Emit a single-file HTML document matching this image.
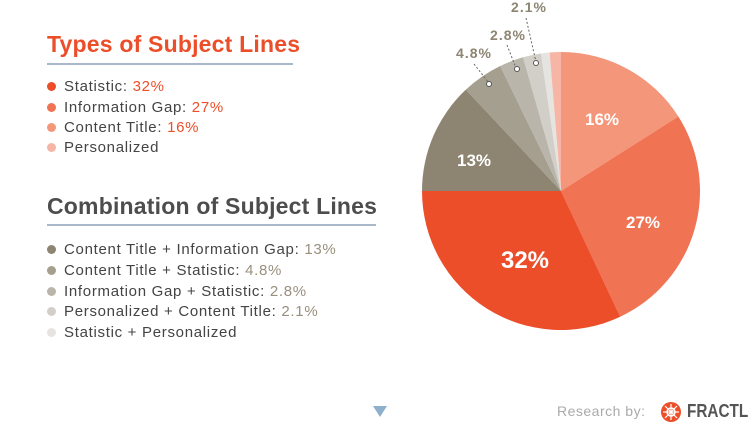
<!DOCTYPE html>
<html><head><style>
body{margin:0;width:756px;height:433px;background:#fff;position:relative;overflow:hidden;font-family:"Liberation Sans",sans-serif}
.t{position:absolute;font-weight:bold;font-size:23px;letter-spacing:0.2px}
.ul{position:absolute;height:2px;background:#a9b8c8}
.it{position:absolute;left:47px;font-size:15px;color:#444;white-space:nowrap;letter-spacing:0.7px}
.it i{display:inline-block;width:9px;height:9px;border-radius:50%;margin-right:8px;vertical-align:0px}
</style></head><body>
<div class="t" style="left:47px;top:31px;color:#ec4e2a">Types of Subject Lines</div>
<div class="ul" style="left:47px;top:63px;width:246px"></div>
<div class="it" style="top:78px"><i style="background:#ec4e2a"></i>Statistic: <span style="color:#ec4e2a">32%</span></div>
<div class="it" style="top:99px"><i style="background:#f07353"></i>Information Gap: <span style="color:#ec4e2a">27%</span></div>
<div class="it" style="top:119px"><i style="background:#f4967a"></i>Content Title: <span style="color:#ec4e2a">16%</span></div>
<div class="it" style="top:139px"><i style="background:#f6b5a5"></i>Personalized</div>
<div class="t" style="left:47px;top:193px;color:#4d4d4d">Combination of Subject Lines</div>
<div class="ul" style="left:47px;top:224px;width:329px"></div>
<div class="it" style="top:241px"><i style="background:#8d8472"></i>Content Title + Information Gap: <span style="color:#998f7e">13%</span></div>
<div class="it" style="top:262px"><i style="background:#a59f90"></i>Content Title + Statistic: <span style="color:#998f7e">4.8%</span></div>
<div class="it" style="top:283px"><i style="background:#bab5aa"></i>Information Gap + Statistic: <span style="color:#998f7e">2.8%</span></div>
<div class="it" style="top:303px"><i style="background:#d2cfc8"></i>Personalized + Content Title: <span style="color:#998f7e">2.1%</span></div>
<div class="it" style="top:324px"><i style="background:#e6e4e0"></i>Statistic + Personalized</div>
<svg id="s" width="756" height="433" style="position:absolute;left:0;top:0"></svg>
<div style="position:absolute;left:373px;top:406px;width:0;height:0;border-left:7px solid transparent;border-right:7px solid transparent;border-top:11px solid #8fb0cc"></div>
<div style="position:absolute;left:557px;top:403px;font-size:14px;color:#aaa;letter-spacing:0.5px">Research by:</div>
<svg width="22" height="22" style="position:absolute;left:660px;top:401px"><circle cx="11" cy="11" r="10" fill="#ec4e2a"/><circle cx="11" cy="11" r="4" fill="none" stroke="#fff" stroke-width="1.5"/><g stroke="#fff" stroke-width="1.2"><line x1="11" y1="3" x2="11" y2="19"/><line x1="3" y1="11" x2="19" y2="11"/><line x1="5" y1="5" x2="17" y2="17"/><line x1="17" y1="5" x2="5" y2="17"/></g></svg>
<div style="position:absolute;left:687px;top:401px;font-size:18px;font-weight:bold;color:#555;transform:scaleX(0.85);transform-origin:left">FRACTL</div>
<script>
var cx=561,cy=191,r=139;
var d=[[16,"#f4967a"],[27,"#f07353"],[32,"#ec4e2a"],[13,"#8d8472"],[4.8,"#a59f90"],[2.8,"#bab5aa"],[2.1,"#d2cfc8"],[1.0,"#e6e4e0"],[1.3,"#f6b5a5"]];
var s="",a=0;
function pt(p,rr){var t=p/100*2*Math.PI;return [cx+rr*Math.sin(t),cy-rr*Math.cos(t)];}
d.forEach(function(x){var p0=pt(a,r),p1=pt(a+x[0],r);s+='<path d="M'+cx+' '+cy+'L'+p0[0]+' '+p0[1]+'A'+r+' '+r+' 0 '+(x[0]>50?1:0)+' 1 '+p1[0]+' '+p1[1]+'Z" fill="'+x[1]+'"/>';a+=x[0];});
var L='font-family="Liberation Sans,sans-serif" font-weight="bold" fill="#fff" text-anchor="middle"';
s+='<text x="602" y="125" font-size="17" '+L+'>16%</text>';
s+='<text x="643" y="228" font-size="17" '+L+'>27%</text>';
s+='<text x="525" y="268" font-size="24" '+L+'>32%</text>';
s+='<text x="474" y="166" font-size="17" '+L+'>13%</text>';
var G='font-family="Liberation Sans,sans-serif" font-weight="bold" fill="#8d8472" text-anchor="middle" font-size="14" letter-spacing="1"';
s+='<text x="474" y="58" '+G+'>4.8%</text><text x="508" y="40" '+G+'>2.8%</text><text x="529" y="12" '+G+'>2.1%</text>';
var D='stroke="#666" stroke-width="1" stroke-dasharray="2,2" fill="none"';
s+='<line x1="474" y1="64" x2="489" y2="83" '+D+'/><line x1="507" y1="45" x2="516" y2="68" '+D+'/><line x1="526" y1="18" x2="536" y2="62" '+D+'/>';
s+='<circle cx="489" cy="84" r="2.5" fill="#fff" stroke="#555"/><circle cx="517" cy="69" r="2.5" fill="#fff" stroke="#555"/><circle cx="536" cy="63" r="2.5" fill="#fff" stroke="#555"/>';
document.getElementById("s").innerHTML=s;
</script>
</body></html>
